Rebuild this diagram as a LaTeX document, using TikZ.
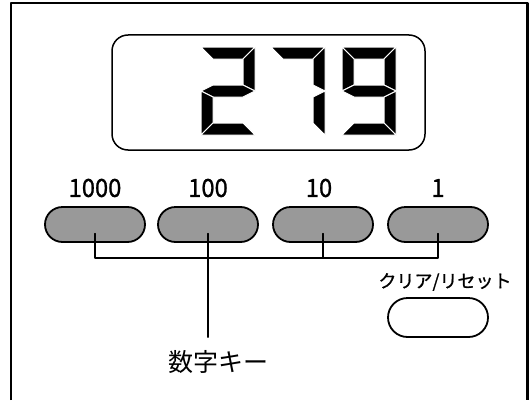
\documentclass[tikz,border=0pt]{standalone}
\usepackage{fontspec}
\setmainfont{Noto Sans CJK JP}
\newfontfamily\keyfont[FakeBold=1]{Noto Sans CJK JP}
\usepackage{tikz}
\usetikzlibrary{arrows,shapes.misc,positioning}

\definecolor{keygray}{RGB}{153,153,153}

\tikzset{
    lcdseg/.style={fill=black,draw=white,line width=1pt,line join=miter},
    numkey/.style={rounded rectangle,draw,line width=1.8pt,fill=keygray,
        minimum width=100pt,minimum height=35pt,inner sep=0pt},
    clearkey/.style={numkey,fill=white,minimum height=39pt},
    keylabel/.style={inner sep=0pt,font=\keyfont\fontsize{25}{25}\selectfont,xscale=0.95},
    wire/.style={line width=1.3pt},
    % segments of one digit, 54 wide, 88 high, 12 thick
    sega/.pic={\fill[lcdseg] (0,88) -- (54,88) -- (42,76) -- (12,76) -- cycle;},
    segb/.pic={\fill[lcdseg] (54,88) -- (54,44) -- (42,50) -- (42,76) -- cycle;},
    segc/.pic={\fill[lcdseg] (54,44) -- (54,0) -- (42,12) -- (42,38) -- cycle;},
    segd/.pic={\fill[lcdseg] (0,0) -- (54,0) -- (42,12) -- (12,12) -- cycle;},
    sege/.pic={\fill[lcdseg] (0,44) -- (0,0) -- (12,12) -- (12,38) -- cycle;},
    segf/.pic={\fill[lcdseg] (0,88) -- (0,44) -- (12,50) -- (12,76) -- cycle;},
    segg/.pic={\fill[lcdseg] (0,44) -- (12,50) -- (42,50) -- (54,44) -- (42,38) -- (12,38) -- cycle;}
}

\newcommand{\lcddigit}[2]{%
    \begin{scope}[shift={#1},xslant=0.11]
        \foreach \s in {#2} {\pic {seg\s};}
    \end{scope}}

\begin{document}
\begin{tikzpicture}[line cap=round,line join=round,x=1pt,y=1pt]
        \useasboundingbox (0,0) rectangle (529,400);
        \draw [line width=2.5pt,line cap=butt] (11,0) -- (11,397) -- (527.5,397) -- (527.5,0);
        % display
        \node [draw,line width=1.5pt,rounded corners=16pt,minimum width=313pt,minimum height=115pt] (lcd) at (268.5,307.5) {};
        \lcddigit{(201,265)}{a,b,g,e,d}
        \lcddigit{(271,265)}{a,b,c}
        \lcddigit{(342,265)}{a,b,c,d,f,g}
        % keys
        \node [numkey] (k1000) at (95,175.5) {};
        \node [numkey] (k100) at (208,175.5) {};
        \node [numkey] (k10) at (323,175.5) {};
        \node [numkey] (k1) at (438,175.5) {};
        \node [keylabel] (l1000) at ([yshift=36.5pt]k1000.center) {1000};
        \node [keylabel] (l100) at ([yshift=36.5pt]k100.center) {100};
        \node [keylabel] (l10) at ([xshift=-4pt,yshift=36.5pt]k10.center) {10};
        \node [keylabel] (l1) at ([yshift=36.5pt]k1.center) {1};
        \node [clearkey] (clr) at (438,82.5) {};
        \node [inner sep=0pt,font=\keyfont\fontsize{18}{18}\selectfont] (lclr) at (445,118) {クリア/リセット};
        \node [inner sep=0pt,font=\fontsize{25}{25}\selectfont] (lnum) at (218,38) {数字キー};
        % wiring
        \coordinate (bus) at (0,142);
        \draw [wire] ([yshift=-9pt]k1000.center) -- (k1000 |- bus) -- (k1 |- bus) -- ([yshift=-9pt]k1.center);
        \draw [wire] ([yshift=-9pt]k10.center) -- (k10 |- bus);
        \draw [wire] ([yshift=-9pt]k100.center) -- ([yshift=13pt]k100 |- lnum.north);
    \end{tikzpicture}
\end{document}
